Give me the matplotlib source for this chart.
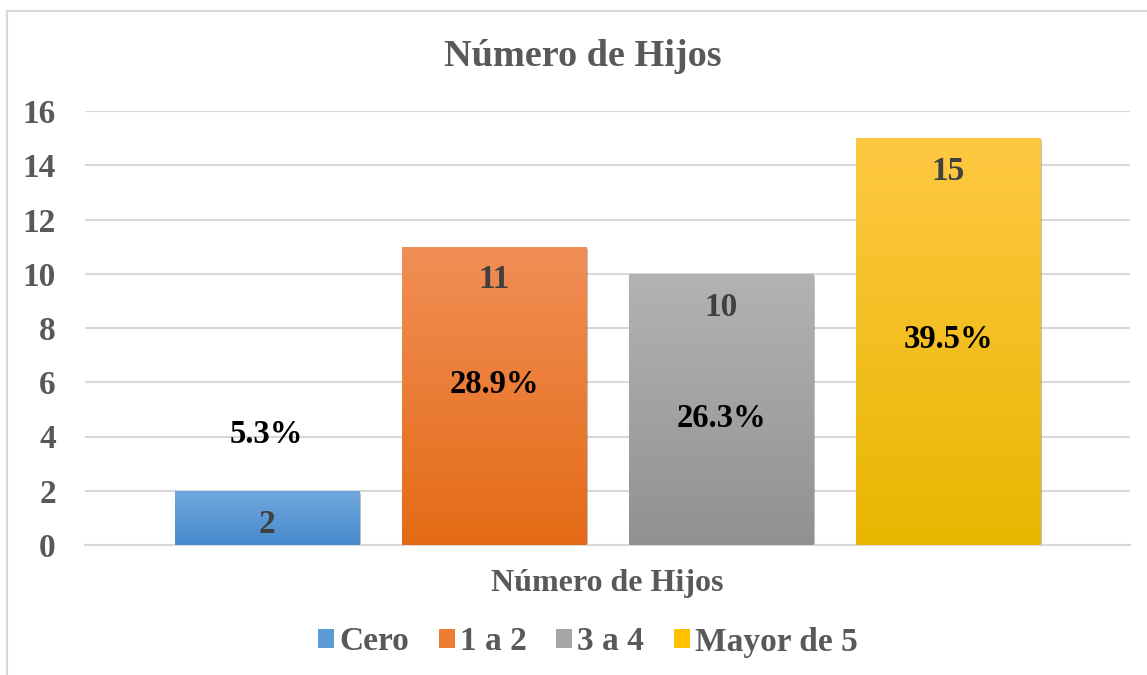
import numpy as np
import matplotlib.pyplot as plt
from matplotlib.colors import LinearSegmentedColormap
from matplotlib.patches import Patch
from matplotlib import patheffects as pe

plt.rcParams['font.family'] = ['Liberation Serif', 'DejaVu Serif']
plt.rcParams['font.weight'] = 'bold'

# data
series = ["Cero", "1 a 2", "3 a 4", "Mayor de 5"]
counts = [2, 11, 10, 15]
pct_labels = ["5.3%", "28.9%", "26.3%", "39.5%"]
pct_label_y = [4.06, 5.9, 4.68, 7.56]   # where the % labels sit (data units)
yticks = [0, 2, 4, 6, 8, 10, 12, 14, 16]

# gradient colours top -> bottom
grad_top = ["#70a7dd", "#f18e56", "#b3b3b3", "#ffc843"]
grad_bot = ["#488bce", "#e46b16", "#919191", "#e8b600"]
solid = ["#5b9bd5", "#ed7d31", "#a5a5a5", "#ffc000"]

grey_txt = "#595959"
grid_c = "#d9d9d9"

fig = plt.figure(figsize=(11.47, 6.75), dpi=100)
ax = fig.add_axes([85 / 1147, 130 / 675, 1045 / 1147, 434 / 675])

x = np.arange(len(series))
w = 184 / 227
bars = ax.bar(x, counts, width=w, color=solid, zorder=2,
              path_effects=[pe.SimplePatchShadow(offset=(1.5, -1.5), shadow_rgbFace="#000000", alpha=0.25),
                            pe.Normal()])

for b, ct, cb in zip(bars, grad_top, grad_bot):
    cmap = LinearSegmentedColormap.from_list("g", [cb, ct])
    x0, y0 = b.get_x(), b.get_y()
    grad = np.linspace(0, 1, 256).reshape(-1, 1)
    im = ax.imshow(grad, cmap=cmap, origin="lower", aspect="auto",
                   extent=[x0, x0 + b.get_width(), y0, y0 + b.get_height()], zorder=3)
    im.set_clip_path(b)

ax.set_xlim(-0.80, 3.80)
ax.set_ylim(0, 16)
ax.set_yticks(yticks)
ax.set_xticks([])
ax.tick_params(axis="y", length=0, pad=21, labelsize=24, labelcolor=grey_txt)
for lab in ax.get_yticklabels():
    lab.set_fontweight("bold")
ax.grid(axis="y", color=grid_c, linewidth=1.5, zorder=0)
ax.set_axisbelow(True)
for s in ["top", "right", "left"]:
    ax.spines[s].set_visible(False)
ax.spines["bottom"].set_color(grid_c)
ax.spines["bottom"].set_linewidth(1.5)

# value labels (inside end)
for xi, c in zip(x, counts):
    ax.annotate(str(c), (xi, c), xytext=(0, -24), textcoords="offset points",
                ha="center", va="center", fontsize=24, fontweight="bold",
                color="#404040", zorder=5)

# percentage labels
for xi, yv, t in zip(x, pct_label_y, pct_labels):
    ax.text(xi, yv, t, ha="center", va="center", fontsize=23.5,
            fontweight="bold", color="black", zorder=5)

fig.text(583 / 1147, 1 - 57 / 675, "Número de Hijos", ha="center", va="center",
         fontsize=27.5, fontweight="bold", color=grey_txt)
fig.text(607 / 1147, 1 - 583 / 675, "Número de Hijos", ha="center", va="center",
         fontsize=23, fontweight="bold", color=grey_txt)

handles = [Patch(facecolor=c, edgecolor="none") for c in solid]
leg = fig.legend(handles, series, loc="center", bbox_to_anchor=(588 / 1147, 1 - 642 / 675),
                 ncol=4, frameon=False, prop={"size": 24, "weight": "bold"},
                 handlelength=0.48, handleheight=0.48, handletextpad=0.15,
                 columnspacing=0.9)
for t in leg.get_texts():
    t.set_color(grey_txt)

# chart border (top & left visible)
fig.add_artist(plt.Line2D([7 / 1147, 1], [1 - 11 / 675, 1 - 11 / 675], color=grid_c, lw=1.5))
fig.add_artist(plt.Line2D([7 / 1147, 7 / 1147], [0, 1 - 11 / 675], color=grid_c, lw=1.5))

fig.savefig("out.png", dpi=100)
